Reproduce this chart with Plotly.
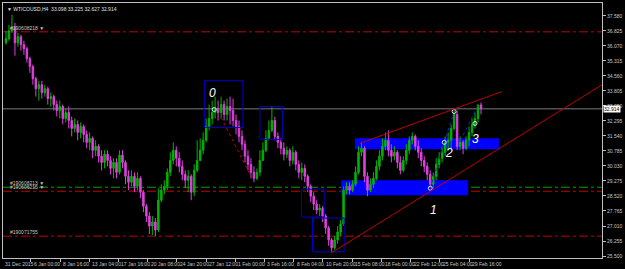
import plotly.graph_objects as go

# ---------------- data ----------------
symbol_title = "WTICOUSD,H4  33.098 33.225 32.627 32.914"
first_open = 36.23
close = [36.43,36.83,37.03,36.23,36.53,36.13,35.93,35.43,35.03,34.42,
         33.92,34.12,33.72,33.92,33.42,33.52,33.12,32.82,33.02,32.42,
         32.72,32.32,31.92,32.12,31.72,32.02,31.62,31.22,31.42,30.82,
         31.02,30.52,30.21,30.62,30.31,29.91,30.21,29.71,30.57,30.21,
         29.51,29.21,29.51,29.01,29.41,28.71,28.01,27.51,27.01,27.21,
         26.81,28.31,28.81,29.01,29.71,30.31,30.82,30.42,30.01,29.61,
         29.31,29.51,28.71,29.81,30.31,30.82,31.32,32.02,32.42,32.72,
         32.92,32.72,33.12,32.62,33.02,32.82,32.32,32.02,31.52,31.12,
         30.52,30.11,29.71,29.41,29.71,30.31,30.82,31.42,31.82,32.32,
         31.52,31.22,30.92,30.62,30.82,30.31,30.72,30.11,29.71,29.91,
         29.51,29.01,28.51,28.11,27.81,27.91,27.51,26.91,26.31,25.91,
         26.31,26.71,27.11,28.81,29.01,28.81,29.11,29.71,30.72,30.92,
         29.51,28.81,29.11,29.41,30.01,30.52,31.02,31.32,30.82,30.52,
         30.72,30.21,29.81,30.31,30.82,31.32,31.52,31.02,30.72,30.31,
         30.01,29.61,29.11,29.51,30.11,30.42,30.72,31.22,31.32,31.92,
         32.62,31.02,31.22,30.92,31.32,31.72,32.12,32.42,33.098,32.914]
high = [36.83,37.13,37.63,37.23,36.73,36.63,36.33,36.03,35.53,35.13,
        34.52,34.32,34.32,34.12,34.02,33.72,33.62,33.32,33.32,33.12,
        32.92,33.02,32.52,32.42,32.32,32.22,32.12,31.82,31.72,31.52,
        31.32,31.12,30.82,30.82,30.82,30.52,30.42,30.42,30.82,30.82,
        30.31,29.81,29.81,29.71,29.71,29.51,28.81,28.11,27.71,27.51,
        27.41,28.91,29.11,29.31,29.91,30.72,31.22,31.02,30.72,30.31,
        29.81,29.81,29.61,30.11,31.32,31.42,31.72,32.42,33.12,33.32,
        33.52,33.32,33.52,33.32,33.42,33.52,33.42,32.62,32.32,31.82,
        31.32,30.82,30.42,30.01,29.91,30.82,31.22,31.82,32.32,33.02,
        32.52,31.72,31.42,31.22,31.02,30.92,31.02,30.82,30.31,30.21,
        30.11,29.61,29.11,28.71,28.31,28.11,28.01,27.61,27.01,26.41,
        26.51,27.01,27.31,29.01,29.21,29.21,29.31,30.01,31.02,31.22,
        31.02,29.71,29.41,29.71,30.31,30.82,31.42,31.72,31.82,31.12,
        31.02,30.82,30.52,30.52,31.12,31.52,31.72,31.62,31.32,30.92,
        30.52,30.21,29.81,29.71,30.42,30.72,31.02,31.52,31.72,32.12,
        32.82,32.82,31.52,31.32,31.52,32.02,32.42,32.72,33.12,33.225]
low = [36.13,36.33,36.73,35.58,36.03,35.83,35.63,35.23,34.72,34.12,
       33.52,33.32,33.42,33.52,33.12,33.02,32.82,32.52,32.42,32.12,
       32.22,31.92,31.52,31.72,31.32,31.42,31.22,30.92,30.82,30.42,
       30.52,30.21,29.81,29.91,30.01,29.61,29.41,29.41,29.61,29.91,
       29.11,28.81,29.01,28.71,28.81,28.41,27.71,27.21,26.61,26.56,
       26.51,26.71,28.21,28.61,28.81,29.51,30.11,30.01,29.71,29.31,
       28.91,28.71,28.31,28.51,29.71,30.31,30.62,31.22,31.82,32.12,
       32.42,32.32,32.42,32.32,32.32,32.12,32.02,31.62,31.22,30.82,
       30.21,29.81,29.41,29.21,29.31,29.51,30.31,30.72,31.32,31.72,
       31.32,30.92,30.62,30.31,30.42,30.01,30.11,29.81,29.41,29.31,
       29.21,28.71,28.21,27.81,27.61,27.51,27.21,26.61,26.01,25.66,
       25.81,26.11,26.51,27.01,28.61,28.61,28.71,29.01,29.61,30.52,
       29.21,28.51,28.71,28.91,29.31,29.81,30.31,30.82,30.52,30.21,
       30.31,29.91,29.61,29.71,30.11,30.62,31.12,30.82,30.42,30.01,
       29.71,29.31,28.91,28.91,29.31,29.91,30.21,30.52,30.82,30.92,
       31.82,30.82,30.82,30.62,30.82,31.02,31.52,31.92,32.22,32.627]
bar_index = list(range(len(close)))
open_ = [first_open] + close[:-1]

price_ticks = [25.500,26.255,27.010,27.765,28.520,29.275,30.030,30.785,31.540,
               32.295,33.050,33.805,34.560,35.315,36.070,36.825,37.580]
time_first_label = "31 Dec 2015"
time_tick_pos = [8.3,18.1,27.9,37.6,47.4,57.2,67.0,76.8,86.5,96.3,106.1,115.9,
                 125.7,135.4,145.2,155.0]
time_tick_text = ["6 Jan 00:00","8 Jan 16:00","13 Jan 04:00","17 Jan 16:00",
                  "20 Jan 08:00","24 Jan 20:00","27 Jan 12:00","1 Feb 00:00",
                  "3 Feb 16:00","8 Feb 04:00","10 Feb 20:00","15 Feb 08:00",
                  "18 Feb 00:00","22 Feb 12:00","25 Feb 04:00","29 Feb 16:00"]
last_price = 32.914

# horizontal levels (price, colour, label)
level_prices = [36.78, 28.96, 28.76, 26.50]
level_colors = ["#c80000", "#00a000", "#c80000", "#c80000"]
level_labels = ["#190608218 \u25bc", "#190608213 \u25bc", "#190606215 \u25bc", "#190071755"]

# filled zones: (x0, x1, y0, y1) in bar index / price
zone_x0 = [112.2, 116.8]
zone_x1 = [154.7, 165.0]
zone_y0 = [28.56, 30.87]
zone_y1 = [29.31, 31.42]
# outline boxes
box_x0 = [66.4, 85.0, 98.9, 102.6]
box_x1 = [79.3, 92.6, 106.5, 113.2]
box_y0 = [31.97, 31.37, 27.46, 25.71]
box_y1 = [34.32, 33.02, 28.86, 27.41]
# trend lines
trend_x0 = [108.9, 118.5]
trend_y0 = [25.66, 31.17]
trend_x1 = [199.5, 165.9]
trend_y1 = [34.12, 33.77]
red_dot_x = [72.0, 82.3]
red_dot_y = [32.47, 29.41]
blue_dot_x = [[142.0, 146.7], [146.7, 150.0], [153.0, 158.3]]
blue_dot_y = [[28.91, 31.22], [31.22, 32.77], [31.57, 33.17]]
pivot_x = [69.7, 142.0, 146.7, 150.0, 157.0]
pivot_y = [32.87, 28.91, 31.22, 32.77, 32.17]
wave_labels = ["0", "1", "2", "3"]
wave_x = [69.0, 143.0, 148.4, 157.3]
wave_y = [33.72, 27.81, 30.67, 31.37]

# ---------------- figure ----------------
hi = [max(h, o, c) for h, o, c in zip(high, open_, close)]
lo = [min(l, o, c) for l, o, c in zip(low, open_, close)]

fig = go.Figure()
fig.add_trace(go.Candlestick(
    x=bar_index, open=open_, high=hi, low=lo, close=close,
    increasing=dict(line=dict(color="#00b400", width=1), fillcolor="#00b400"),
    decreasing=dict(line=dict(color="#e040e0", width=1), fillcolor="#e040e0"),
    whiskerwidth=0, showlegend=False, hoverinfo="skip"))

for xs, ys in zip(blue_dot_x, blue_dot_y):
    fig.add_trace(go.Scatter(x=xs, y=ys, mode="lines", hoverinfo="skip",
                             line=dict(color="#2020d0", width=1, dash="dot"), showlegend=False))
fig.add_trace(go.Scatter(x=red_dot_x, y=red_dot_y, mode="lines", hoverinfo="skip",
                         line=dict(color="#c00000", width=1, dash="dot"), showlegend=False))
fig.add_trace(go.Scatter(x=pivot_x, y=pivot_y, mode="markers", hoverinfo="skip",
                         marker=dict(symbol="circle-open", size=4, color="#e0e0ff",
                                     line=dict(width=1)), showlegend=False))

shapes = []
for x0, x1, y0, y1 in zip(zone_x0, zone_x1, zone_y0, zone_y1):
    shapes.append(dict(type="rect", xref="x", yref="y", x0=x0, x1=x1, y0=y0, y1=y1,
                       fillcolor="#0000ff", line=dict(width=0), layer="below"))
for x0, x1, y0, y1 in zip(box_x0, box_x1, box_y0, box_y1):
    shapes.append(dict(type="rect", xref="x", yref="y", x0=x0, x1=x1, y0=y0, y1=y1,
                       fillcolor="rgba(0,0,0,0)", line=dict(color="#0000c8", width=1), layer="above"))
for p, col in zip(level_prices, level_colors):
    shapes.append(dict(type="line", xref="paper", yref="y", x0=0, x1=1, y0=p, y1=p,
                       line=dict(color=col, width=1, dash="dashdot"), layer="below"))
shapes.append(dict(type="line", xref="paper", yref="y", x0=0, x1=1, y0=last_price, y1=last_price,
                   line=dict(color="#505050", width=1.5), layer="below"))
for x0, y0, x1, y1 in zip(trend_x0, trend_y0, trend_x1, trend_y1):
    shapes.append(dict(type="line", xref="x", yref="y", x0=x0, y0=y0, x1=x1, y1=y1,
                       line=dict(color="#c00000", width=1), layer="above"))

small = dict(family="Liberation Sans", size=5, color="#c8c8c8")
ann = []
ann.append(dict(xref="paper", yref="paper", x=0, y=1, xanchor="left", yanchor="top",
                xshift=2, yshift=-1, text="\u25bc " + symbol_title, showarrow=False,
                font=dict(family="Liberation Sans", size=5, color="#e0e0e0")))
for p, t in zip(level_prices, level_labels):
    ann.append(dict(xref="paper", yref="y", x=0, y=p, xanchor="left", yanchor="bottom",
                    xshift=5, yshift=-1, text=t, showarrow=False, font=small))
ann.append(dict(xref="paper", yref="paper", x=0, y=0, xanchor="left", yanchor="top",
                xshift=0, yshift=-1, text=time_first_label, showarrow=False, font=small))
for xv, t in zip(time_tick_pos, time_tick_text):
    ann.append(dict(xref="x", yref="paper", x=xv, y=0, xanchor="left", yanchor="top",
                    xshift=1, yshift=-1, text=t, showarrow=False, font=small))
for t, xv, yv in zip(wave_labels, wave_x, wave_y):
    ann.append(dict(xref="x", yref="y", x=xv, y=yv, text="<i>" + t + "</i>", showarrow=False,
                    font=dict(family="Liberation Sans", size=12, color="#ffffff")))
ann.append(dict(xref="paper", yref="y", x=1, y=last_price, xanchor="left", yanchor="middle",
                xshift=1, text="{:.3f}".format(last_price), showarrow=False, bgcolor="#ffffff",
                borderpad=0, font=dict(family="Liberation Sans", size=5, color="#000000")))

fig.update_layout(
    width=625, height=269, margin=dict(l=2, r=19, t=2, b=11),
    paper_bgcolor="#000000", plot_bgcolor="#000000",
    shapes=shapes, annotations=ann, showlegend=False,
    xaxis=dict(range=[-1.0, 199.5], rangeslider=dict(visible=False), showgrid=False,
               zeroline=False, tickvals=time_tick_pos, showticklabels=False,
               ticks="outside", ticklen=3, tickcolor="#c0c0c0",
               showline=True, linecolor="#c0c0c0", linewidth=1, mirror=True),
    yaxis=dict(range=[25.40, 38.23], side="right", showgrid=False, zeroline=False,
               tickvals=price_ticks, ticktext=["{:.3f}".format(v) for v in price_ticks],
               ticks="outside", ticklen=3, tickcolor="#c0c0c0", tickfont=small,
               showline=True, linecolor="#c0c0c0", linewidth=1, mirror=True),
)
fig.write_html("out.html")
